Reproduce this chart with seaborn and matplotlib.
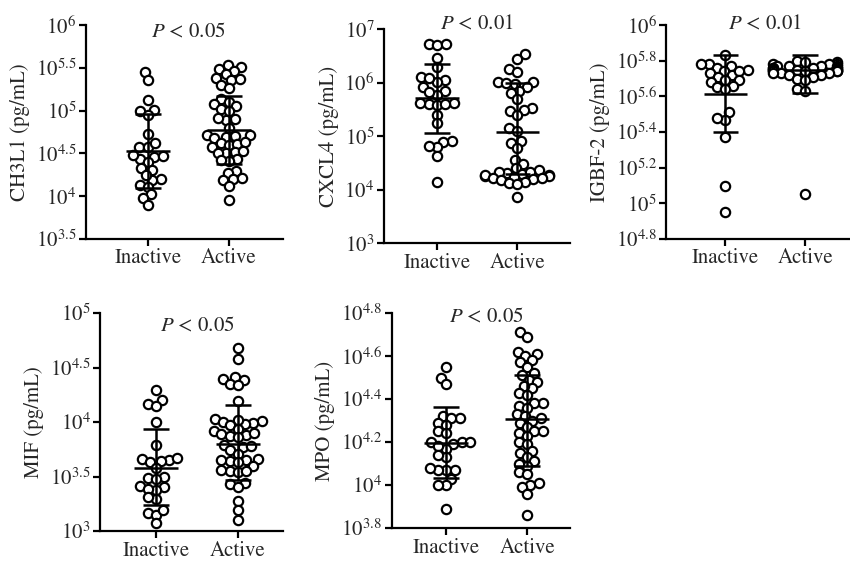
import matplotlib.pyplot as plt
import seaborn as sns
import pandas as pd

groups = ["Inactive", "Active"]

# values are log10(pg/mL)
ch3l1_inactive = [5.45, 5.36, 5.12, 5.01, 4.99, 4.95, 4.73, 4.58, 4.57, 4.62, 4.44, 4.48, 4.46,
                  4.40, 4.47, 4.33, 4.31, 4.20, 4.19, 4.25, 4.13, 4.11, 4.02, 3.98, 3.90]
ch3l1_active = [5.53, 5.51, 5.49, 5.46, 5.43, 5.38, 5.36, 5.37, 5.30, 5.27, 5.14, 5.10, 5.08,
                5.05, 5.02, 5.00, 4.90, 4.89, 4.91, 4.80, 4.72, 4.70, 4.69, 4.71, 4.68, 4.62,
                4.60, 4.61, 4.58, 4.63, 4.52, 4.50, 4.53, 4.51, 4.43, 4.41, 4.42, 4.29, 4.27,
                4.20, 4.19, 4.21, 4.12, 3.96]
ch3l1_median = [4.53, 4.77]
ch3l1_q1 = [4.10, 4.38]
ch3l1_q3 = [4.96, 5.17]

cxcl4_inactive = [6.72, 6.71, 6.73, 6.46, 6.30, 6.10, 6.05, 6.02, 6.08, 5.92, 5.85, 5.78, 5.82,
                  5.62, 5.60, 5.58, 5.63, 5.61, 5.40, 5.24, 4.92, 4.90, 4.80, 4.82, 4.64, 4.15]
cxcl4_active = [6.53, 6.45, 6.25, 6.20, 6.02, 6.00, 5.98, 6.01, 5.92, 5.85, 5.80, 5.70, 5.52,
                5.50, 5.48, 5.40, 5.15, 5.10, 4.92, 4.88, 4.78, 4.55, 4.48, 4.40, 4.36, 4.32,
                4.33, 4.30, 4.34, 4.28, 4.26, 4.25, 4.27, 4.22, 4.24, 4.20, 4.18, 4.15, 4.12,
                4.10, 4.21, 3.87]
cxcl4_median = [5.71, 5.08]
cxcl4_q1 = [5.06, 4.30]
cxcl4_q3 = [6.36, 6.00]

igbf2_inactive = [5.83, 5.78, 5.77, 5.78, 5.76, 5.75, 5.73, 5.74, 5.72, 5.74, 5.71, 5.69, 5.68,
                  5.69, 5.66, 5.65, 5.64, 5.51, 5.47, 5.48, 5.37, 5.10, 4.95]
igbf2_active = [5.80, 5.79, 5.79, 5.78, 5.78, 5.78, 5.77, 5.77, 5.77, 5.77, 5.76, 5.76, 5.76,
                5.76, 5.76, 5.75, 5.75, 5.75, 5.75, 5.75, 5.74, 5.74, 5.74, 5.74, 5.73, 5.73,
                5.73, 5.72, 5.72, 5.71, 5.70, 5.69, 5.64, 5.63, 5.05]
igbf2_median = [5.613, 5.75]
igbf2_q1 = [5.40, 5.62]
igbf2_q3 = [5.83, 5.83]

mif_inactive = [4.29, 4.20, 4.17, 4.15, 4.00, 3.79, 3.65, 3.66, 3.64, 3.63, 3.67, 3.58, 3.49,
                3.50, 3.48, 3.40, 3.38, 3.41, 3.39, 3.29, 3.31, 3.17, 3.15, 3.19, 3.07]
mif_active = [4.68, 4.58, 4.40, 4.39, 4.41, 4.35, 4.34, 4.19, 4.03, 4.01, 4.00, 3.99, 3.98,
              4.02, 3.97, 3.92, 3.94, 3.89, 3.88, 3.90, 3.87, 3.86, 3.79, 3.77, 3.74, 3.78,
              3.71, 3.65, 3.64, 3.63, 3.65, 3.66, 3.60, 3.55, 3.54, 3.56, 3.55, 3.44, 3.43,
              3.40, 3.28, 3.19, 3.10]
mif_median = [3.58, 3.80]
mif_q1 = [3.24, 3.47]
mif_q3 = [3.94, 4.16]

mpo_inactive = [4.55, 4.50, 4.47, 4.32, 4.31, 4.29, 4.31, 4.28, 4.25, 4.24, 4.20, 4.20, 4.19,
                4.20, 4.17, 4.18, 4.13, 4.14, 4.07, 4.07, 4.08, 4.07, 4.03, 4.00, 4.00, 3.89]
mpo_active = [4.71, 4.69, 4.62, 4.61, 4.60, 4.58, 4.57, 4.55, 4.51, 4.52, 4.49, 4.48, 4.45,
              4.46, 4.43, 4.42, 4.38, 4.37, 4.38, 4.36, 4.33, 4.32, 4.30, 4.31, 4.29, 4.27,
              4.25, 4.24, 4.25, 4.23, 4.20, 4.19, 4.15, 4.16, 4.13, 4.11, 4.09, 4.10, 4.06,
              4.05, 4.01, 4.00, 3.99, 3.96, 3.86]
mpo_median = [4.196, 4.305]
mpo_q1 = [4.034, 4.088]
mpo_q3 = [4.363, 4.514]

markers = ["CH3L1", "CXCL4", "IGBF-2", "MIF", "MPO"]
p_values = ["0.05", "0.01", "0.01", "0.05", "0.05"]
y_ticks = [
    [3.5, 4, 4.5, 5, 5.5, 6],
    [3, 4, 5, 6, 7],
    [4.8, 5, 5.2, 5.4, 5.6, 5.8, 6],
    [3, 3.5, 4, 4.5, 5],
    [3.8, 4, 4.2, 4.4, 4.6, 4.8],
]

panels = [
    (ch3l1_inactive, ch3l1_active, ch3l1_median, ch3l1_q1, ch3l1_q3),
    (cxcl4_inactive, cxcl4_active, cxcl4_median, cxcl4_q1, cxcl4_q3),
    (igbf2_inactive, igbf2_active, igbf2_median, igbf2_q1, igbf2_q3),
    (mif_inactive, mif_active, mif_median, mif_q1, mif_q3),
    (mpo_inactive, mpo_active, mpo_median, mpo_q1, mpo_q3),
]

axes_pos = [
    [0.101, 0.5755, 0.232, 0.380],
    [0.452, 0.568, 0.219, 0.380],
    [0.784, 0.5755, 0.215, 0.380],
    [0.118, 0.0568, 0.215, 0.387],
    [0.461, 0.062, 0.210, 0.382],
]
x_lims = [(-0.765, 1.667), (-0.66, 1.66), (-0.74, 1.55), (-0.68, 1.55), (-0.67, 1.53)]
p_text_y = [0.967, 1.02, 1.0, 0.936, 0.977]

swarm_size = 4.2   # size used to lay out the swarm (tighter, like GraphPad)
dot_size = 6.7     # size the circles are finally drawn at

sns.set_theme(style="ticks")
plt.rcParams["font.family"] = ["STIXGeneral", "DejaVu Serif"]
plt.rcParams["mathtext.fontset"] = "stix"

fig = plt.figure(figsize=(8.5, 5.63), dpi=100)
axes = []

for i, (inact, act, med, q1, q3) in enumerate(panels):
    ax = fig.add_axes(axes_pos[i])
    axes.append(ax)
    df = pd.DataFrame({
        "group": ["Inactive"] * len(inact) + ["Active"] * len(act),
        "value": inact + act,
    })
    ticks = y_ticks[i]
    ax.set_ylim(ticks[0], ticks[-1])
    sns.swarmplot(data=df, x="group", y="value", order=groups, ax=ax, size=swarm_size,
                  color="white", edgecolor="black", linewidth=1.6, warn_thresh=1, zorder=2)

    # median with interquartile range
    for x in range(2):
        ax.hlines(med[x], x - 0.27, x + 0.27, color="black", lw=1.8, zorder=3)
        ax.hlines([q1[x], q3[x]], x - 0.16, x + 0.16, color="black", lw=1.8, zorder=3)
        ax.vlines(x, q1[x], q3[x], color="black", lw=1.8, zorder=3)

    ax.set_ylim(ticks[0], ticks[-1])
    ax.set_yticks(ticks)
    ax.set_yticklabels([f"$10^{{{t:g}}}$" for t in ticks])
    ax.set_xlim(x_lims[i])
    ax.set_xlabel("")
    ax.set_ylabel(f"{markers[i]} (pg/mL)", fontsize=15)
    ax.text(0.5, p_text_y[i], f"$P$ < {p_values[i]}", transform=ax.get_xaxis_transform(),
            ha="center", va="center", fontsize=15)
    sns.despine(ax=ax)
    for side in ["left", "bottom"]:
        ax.spines[side].set_linewidth(1.6)
        ax.spines[side].set_color("black")
    ax.tick_params(labelsize=15, width=1.6, length=5, color="black", pad=2)

# lay the swarms out once, then keep those positions and enlarge the circles
# so neighbours touch/overlap a little as in the original
fig.canvas.draw()
for ax in axes:
    for coll in ax.collections:
        if "draw" in vars(coll):
            del coll.draw
            coll.set_sizes([dot_size ** 2])

fig.savefig("out.png", dpi=100)
